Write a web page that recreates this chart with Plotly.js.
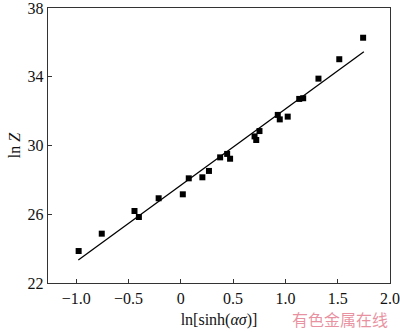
<!DOCTYPE html>
<html>
<head>
<meta charset="utf-8">
<script src="https://cdn.plot.ly/plotly-3.0.1.min.js"></script>
<style>html,body{margin:0;padding:0;background:#fff}#chart{width:400px;height:332px}</style>
</head>
<body>
<div id="chart"></div>
<script>
// Experimental points: ln[sinh(alpha*sigma)] vs ln Z
var lnSinh = [-0.977, -0.756, -0.443, -0.401, -0.212, 0.019, 0.076, 0.206, 0.269, 0.376, 0.443, 0.471, 0.705, 0.721, 0.752, 0.927, 0.946, 1.022, 1.132, 1.170, 1.316, 1.515, 1.743];
var lnZ    = [23.86, 24.87, 26.19, 25.84, 26.93, 27.16, 28.09, 28.15, 28.52, 29.31, 29.51, 29.23, 30.53, 30.32, 30.84, 31.78, 31.52, 31.68, 32.71, 32.75, 33.89, 35.02, 36.27];
// Fitted line endpoints
var fitX = [-0.98, 1.75];
var fitY = [23.34, 35.46];
// Tick labels
var xTickVals = [-1.0, -0.5, 0, 0.5, 1.0, 1.5, 2.0];
var xTickText = ["\u22121.0", "\u22120.5", "0", "0.5", "1.0", "1.5", "2.0"];
var yTickVals = [22, 26, 30, 34, 38];
var yTickText = ["22", "26", "30", "34", "38"];

var serif = "Liberation Serif, Times New Roman, serif";

var traces = [
  {x: fitX, y: fitY, mode: "lines", type: "scatter",
   line: {color: "#000", width: 1.3}, hoverinfo: "skip", showlegend: false},
  {x: lnSinh, y: lnZ, mode: "markers", type: "scatter",
   marker: {symbol: "square", size: 6, color: "#000"}, showlegend: false}
];

var axisCommon = {
  showgrid: false, zeroline: false, showline: true, mirror: true,
  linecolor: "#333", linewidth: 1.3, ticks: "inside", ticklen: 4,
  tickcolor: "#333", tickwidth: 1, ticklabeloverflow: "allow",
  tickfont: {family: serif, size: 16, color: "#111"}
};

var layout = {
  width: 400, height: 332,
  margin: {l: 48, r: 10, t: 8, b: 49},
  paper_bgcolor: "#fff", plot_bgcolor: "#fff",
  xaxis: Object.assign({}, axisCommon, {
    range: [-1.27, 2.0], tickmode: "array", tickvals: xTickVals, ticktext: xTickText,
    title: {text: "ln[sinh(<i>\u03b1\u03c3</i>)]", standoff: 8,
      font: {family: serif, size: 16, color: "#111"}}
  }),
  yaxis: Object.assign({}, axisCommon, {
    range: [22, 38], tickmode: "array", tickvals: yTickVals, ticktext: yTickText,
    title: {text: "ln <i>Z</i>", standoff: 3,
      font: {family: serif, size: 16, color: "#111"}}
  }),
  annotations: [
    {xref: "paper", yref: "paper", x: 1.0, y: -0.13, xanchor: "right", yanchor: "middle",
     text: "有色金属在线", showarrow: false,
     font: {family: "Noto Sans CJK SC", size: 16, color: "rgba(225,110,130,0.75)"}}
  ]
};

Plotly.newPlot("chart", traces, layout, {displayModeBar: false, staticPlot: true});
</script>
</body>
</html>
